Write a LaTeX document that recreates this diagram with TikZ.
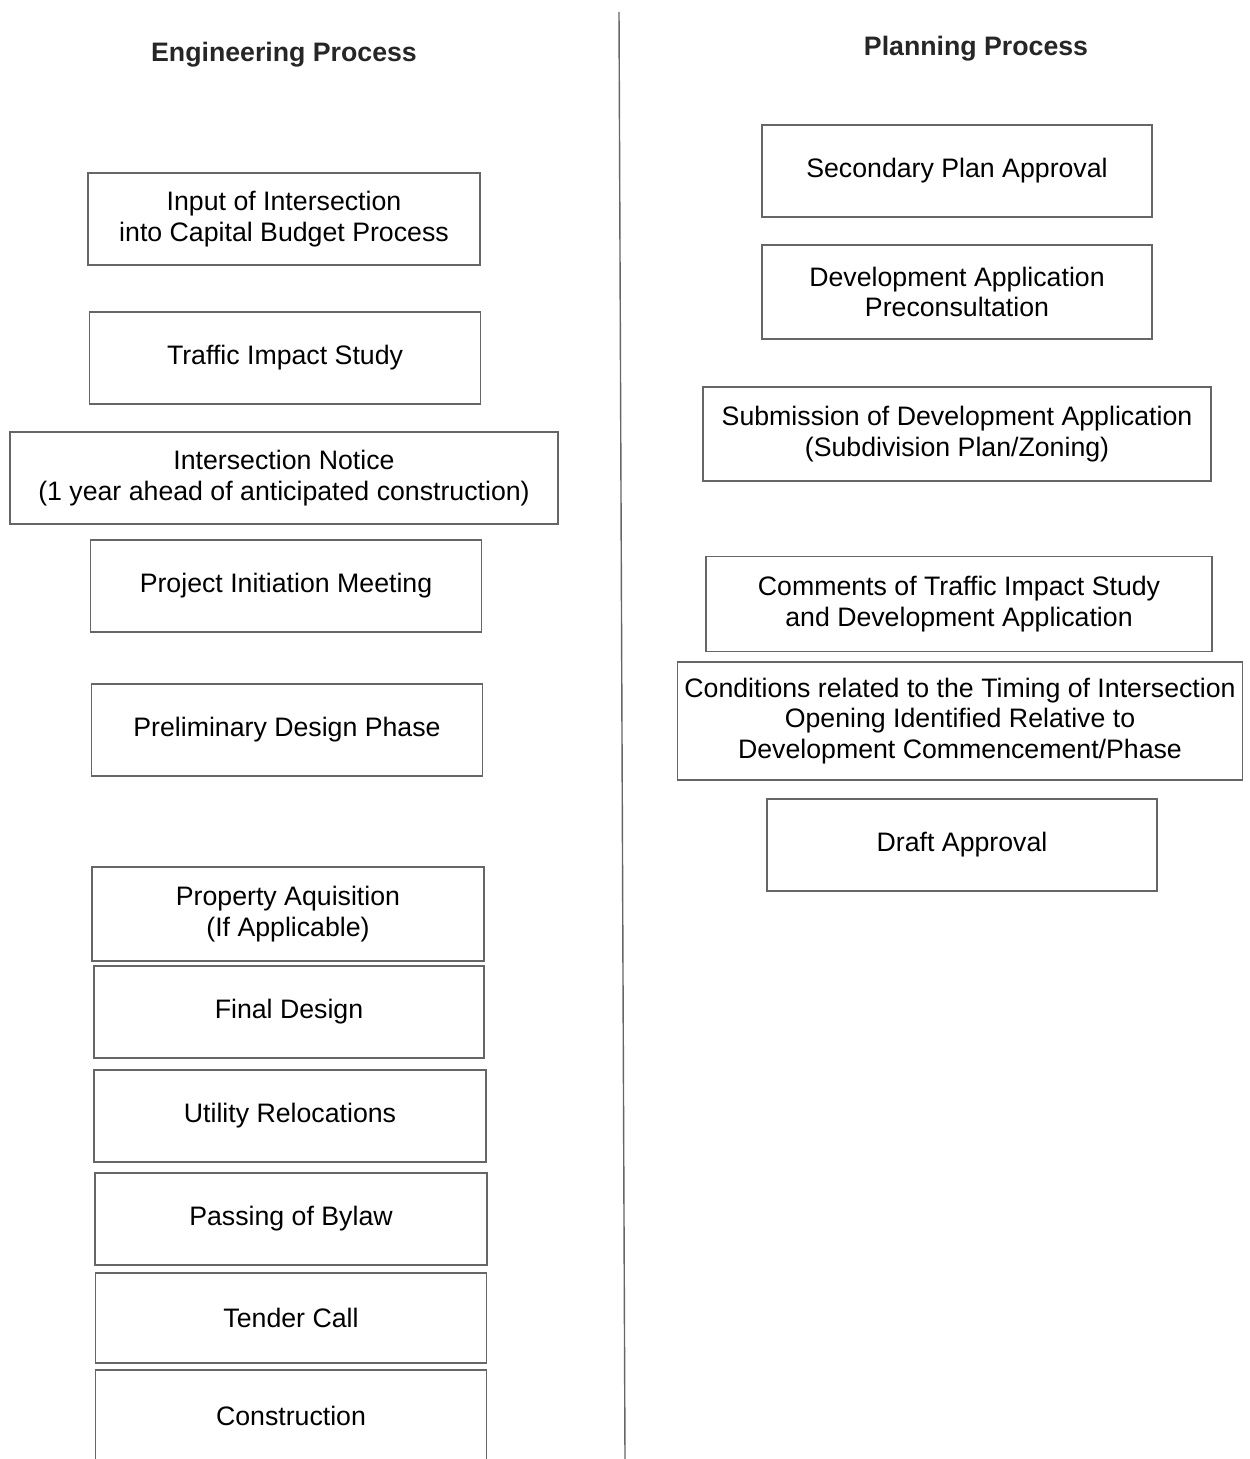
\documentclass[tikz,border=0pt]{standalone}
\usepackage{fontspec}
\setmainfont{Liberation Sans}
\tikzset{
    procbox/.style={draw=black!60, line width=0.8pt, align=center, inner sep=0pt,
        font=\fontsize{15.2}{17.2}\selectfont},
    heading/.style={font=\fontsize{15.2}{17.2}\selectfont\bfseries, text=black!85}
}
\begin{document}
\begin{tikzpicture}[x=0.02cm,y=-0.02cm]
                \useasboundingbox (0,0) rectangle (1249,1459);
                \clip (0,0) rectangle (1249,1459);
                \draw[black!60,line width=0.8pt] (619,12) -- (625,1459);
                \node[heading] (enghead) at (284,55) {Engineering Process};
                \node[heading] (planhead) at (976,49) {Planning Process};
                % engineering side
                \node[procbox,minimum width=7.84cm,minimum height=1.84cm] (input) at (284,219) {Input of Intersection\\into Capital Budget Process};
                \node[procbox,minimum width=7.82cm,minimum height=1.84cm] (traffic) at (285,358) {Traffic Impact Study};
                \node[procbox,minimum width=10.96cm,minimum height=1.84cm] (notice) at (284,478) {Intersection Notice\\(1 year ahead of anticipated construction)};
                \node[procbox,minimum width=7.82cm,minimum height=1.84cm] (initiation) at (286,586) {Project Initiation Meeting};
                \node[procbox,minimum width=7.82cm,minimum height=1.84cm] (prelim) at (287,730) {Preliminary Design Phase};
                \node[procbox,minimum width=7.84cm,minimum height=1.88cm] (property) at (288,914) {Property Aquisition\\(If Applicable)};
                \node[procbox,minimum width=7.8cm,minimum height=1.84cm] (final) at (289,1012) {Final Design};
                \node[procbox,minimum width=7.84cm,minimum height=1.84cm] (utility) at (290,1116) {Utility Relocations};
                \node[procbox,minimum width=7.84cm,minimum height=1.84cm] (bylaw) at (291,1219) {Passing of Bylaw};
                \node[procbox,minimum width=7.82cm,minimum height=1.8cm] (tender) at (291,1318) {Tender Call};
                \node[procbox,minimum width=7.82cm,minimum height=1.84cm] (construction) at (291,1416) {Construction};
                % planning side
                \node[procbox,minimum width=7.8cm,minimum height=1.84cm] (secondary) at (957,171) {Secondary Plan Approval};
                \node[procbox,minimum width=7.8cm,minimum height=1.88cm] (preconsult) at (957,292) {Development Application\\Preconsultation};
                \node[procbox,minimum width=10.16cm,minimum height=1.88cm] (submission) at (957,434) {Submission of Development Application\\(Subdivision Plan/Zoning)};
                \node[procbox,minimum width=10.12cm,minimum height=1.9cm] (comments) at (959,604) {Comments of Traffic Impact Study\\and Development Application};
                \node[procbox,minimum width=11.3cm,minimum height=2.36cm] (conditions) at (960,721) {Conditions related to the Timing of Intersection\\Opening Identified Relative to\\Development Commencement/Phase};
                \node[procbox,minimum width=7.8cm,minimum height=1.84cm] (draft) at (962,845) {Draft Approval};
\end{tikzpicture}
\end{document}
